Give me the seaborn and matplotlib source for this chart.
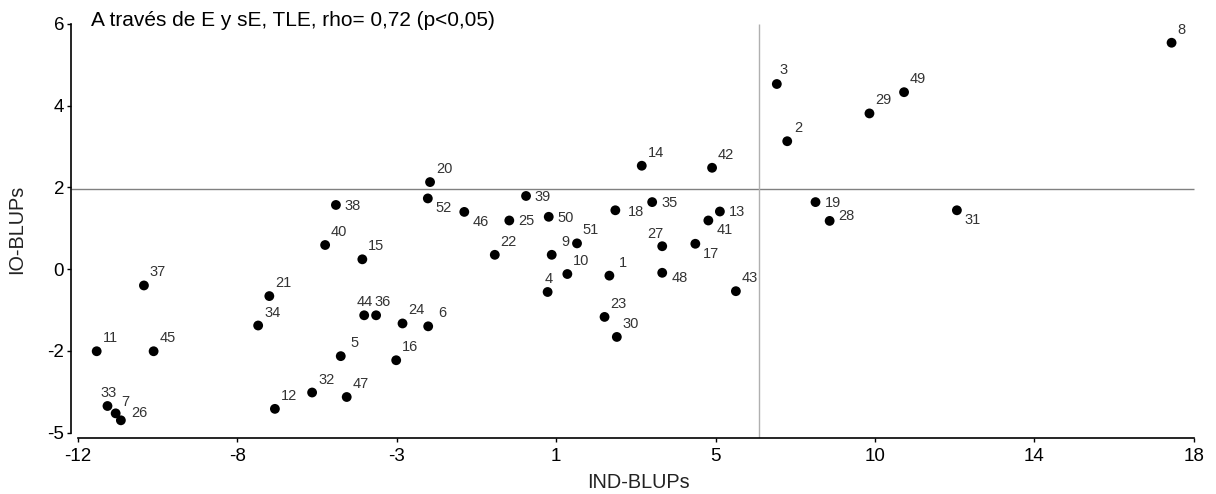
import numpy as np
import pandas as pd
import matplotlib
matplotlib.use("Agg")
import matplotlib.pyplot as plt
import seaborn as sns

# genotype numbers and their BLUPs
genotype = list(range(1, 53))
ind_blup = [2.29, 7.07, 6.79, 0.63, -4.93, -2.58, -10.98, 17.40, 0.74, 1.16,
            -11.49, -6.70, 5.26, 3.16, -4.35, -3.44, 4.60, 2.45, 7.83, -2.53,
            -6.85, -0.79, 2.16, -3.27, -0.40, -10.84, 3.71, 8.21, 9.28, 2.49,
            11.63, -5.70, -11.20, -7.15, 3.44, -3.98, -10.22, -5.06, 0.05, -5.35,
            4.95, 5.05, 5.69, -4.30, -9.96, -1.61, -4.77, 3.71, 10.21, 0.66,
            1.42, -2.59]
io_blup = [-0.16, 3.13, 4.53, -0.56, -2.13, -1.40, -3.53, 5.54, 0.35, -0.12,
           -2.01, -3.42, 1.41, 2.53, 0.24, -2.23, 0.62, 1.44, 1.64, 2.13,
           -0.66, 0.35, -1.17, -1.33, 1.19, -3.70, 0.56, 1.18, 3.81, -1.66,
           1.44, -3.02, -3.35, -1.38, 1.64, -1.13, -0.40, 1.57, 1.79, 0.59,
           1.19, 2.48, -0.54, -1.13, -2.01, 1.40, -3.13, -0.09, 4.33, 1.28,
           0.63, 1.73]

x_ref = 6.30
y_ref = 1.95

x_ticklabels = ['-12', '-8', '-3', '1', '5', '10', '14', '18']
y_ticklabels = ['-5', '-2', '0', '2', '4', '6']

title = 'A través de E y sE, TLE, rho= 0,72 (p<0,05)'

df = pd.DataFrame({'gen': genotype, 'ind': ind_blup, 'io': io_blup})

sns.set_theme(style='ticks')
plt.rcParams['font.family'] = ['Liberation Sans', 'DejaVu Sans']

fig = plt.figure(figsize=(12.16, 4.94), dpi=100)
ax = fig.add_axes([0.0584, 0.1128, 0.9326, 0.847])

sns.scatterplot(data=df, x='ind', y='io', color='black', s=50,
                edgecolor='none', ax=ax, zorder=3)

ax.set_xlim(-12.18, 18.3)
ax.set_ylim(-4.14, 6.1)

ax.hlines(y_ref, -12.18, 18, color='#808080', lw=1, zorder=1)
ax.vlines(x_ref, -4.14, 6, color='#b0b0b0', lw=1, zorder=1)

# label placement (offset in pixels from point, label centre)
offs = {'ur': (14, -13), 'r': (17, 1), 'lr': (16, 10), 'u': (1, -13)}
where = {38: 'r', 35: 'r', 13: 'r', 19: 'r', 50: 'r', 39: 'r', 25: 'r',
         52: 'lr', 46: 'lr', 41: 'lr', 17: 'lr', 31: 'lr',
         4: 'u', 44: 'u', 33: 'u'}
special = {18: (21, 2), 28: (17, -5), 48: (18, 5), 27: (-7, -12),
           36: (6, -13), 7: (10, -11), 26: (19, -7), 8: (10, -13),
           3: (7, -14), 2: (11, -13)}
for g, xv, yv in zip(genotype, ind_blup, io_blup):
    dx, dy = special.get(g, offs[where.get(g, 'ur')])
    ax.annotate(str(g), (xv, yv), xytext=(dx * 0.72, -dy * 0.72),
                textcoords='offset points', ha='center', va='center',
                fontsize=10.5, color='#333333')

ax.set_xticks(np.linspace(-12, 18, 8))
ax.set_xticklabels(x_ticklabels)
ax.set_yticks([-4, -2, 0, 2, 4, 6])
ax.set_yticklabels(y_ticklabels)
ax.tick_params(axis='both', labelsize=13.5, length=3, width=1, color='black',
               labelcolor='black')
ax.tick_params(axis='x', pad=4)
ax.tick_params(axis='y', pad=2)

sns.despine(ax=ax)
ax.spines['left'].set_bounds(-4, 6)
ax.spines['bottom'].set_bounds(-12, 18)
for s in ('left', 'bottom'):
    ax.spines[s].set_color('black')
    ax.spines[s].set_linewidth(1.2)

ax.set_xlabel('IND-BLUPs', fontsize=14.3, color='#222222', labelpad=6)
ax.set_ylabel('IO-BLUPs', fontsize=14.3, color='#222222', labelpad=15)

fig.text(91 / 1216, 1 - 20 / 494, title, fontsize=15, va='center', ha='left',
         color='black')

fig.savefig('out.png', dpi=100)
